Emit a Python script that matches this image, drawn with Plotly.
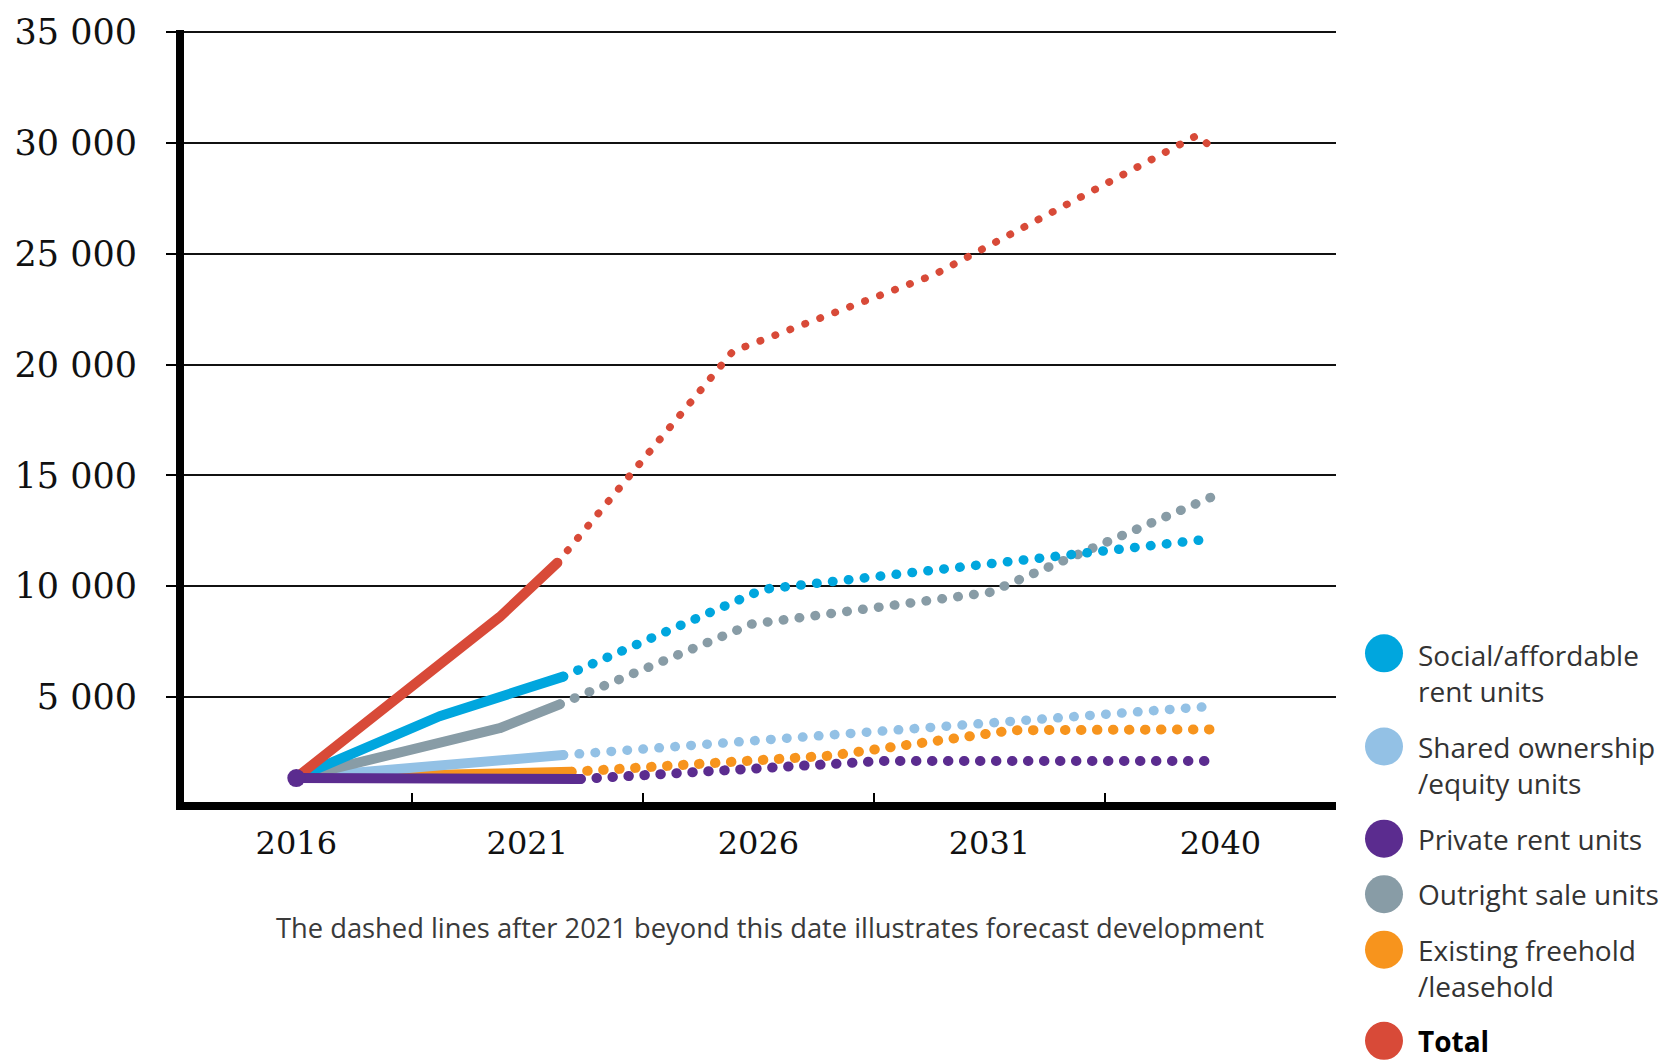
import plotly.graph_objects as go

# Timeline: 0 = 2016, 1 = 2021, 2 = 2026, 3 = 2031, 4 = 2040 (evenly spaced periods)
period_labels = ["2016", "2021", "2026", "2031", "2040"]
period_pos = [0, 1, 2, 3, 4]
period_bounds = [0.5, 1.5, 2.5, 3.5]

# Delivered units to date (solid) and forecast development (dotted)
social_x = [0, 0.62, 1.155]
social_y = [1350, 4120, 5910]
social_fx = [1.155, 2.02, 3.96]
social_fy = [5910, 9850, 12130]

shared_x = [0, 1.155]
shared_y = [1350, 2370]
shared_fx = [1.155, 3.96]
shared_fy = [2370, 4570]

private_x = [0, 1.23]
private_y = [1330, 1290]
private_fx = [1.23, 2.53, 3.99]
private_fy = [1290, 2100, 2100]

outright_x = [0, 0.88, 1.14]
outright_y = [1350, 3580, 4660]
outright_fx = [1.14, 1.97, 3.0, 3.96]
outright_fy = [4660, 8280, 9710, 14010]

existing_x = [0, 1.19]
existing_y = [1350, 1610]
existing_fx = [1.19, 2.31, 3.10, 3.99]
existing_fy = [1610, 2340, 3490, 3530]

total_x = [0, 0.88, 1.13]
total_y = [1350, 8600, 11050]
total_fx = [1.13, 1.89, 2.76, 3.90, 3.95]
total_fy = [11050, 20600, 24050, 30350, 29900]

y_ticks = [5000, 10000, 15000, 20000, 25000, 30000, 35000]

BLUE = "#00a6de"
LIGHT = "#93c1e5"
PURPLE = "#5b2c8f"
GRAY = "#889ca6"
ORANGE = "#f7941d"
RED = "#d84a38"

series = [
    # name, colour, solid x/y, forecast x/y, dot width
    ("Existing freehold<br>/leasehold", ORANGE, existing_x, existing_y, existing_fx, existing_fy, 10),
    ("Shared ownership<br>/equity units", LIGHT, shared_x, shared_y, shared_fx, shared_fy, 9.5),
    ("Outright sale units", GRAY, outright_x, outright_y, outright_fx, outright_fy, 9.5),
    ("Social/affordable<br>rent units", BLUE, social_x, social_y, social_fx, social_fy, 9.5),
    ("Total", RED, total_x, total_y, total_fx, total_fy, 7.5),
    ("Private rent units", PURPLE, private_x, private_y, private_fx, private_fy, 10),
]

W, H = 1667, 1061
L, R, T, B = 184, 331, 23, 259
PW, PH = W - L - R, H - T - B


def paper_x(px):
    return (px - L) / PW


def paper_y(py):
    return (H - B - py) / PH


fig = go.Figure()

for name, color, sx, sy, fx, fy, dw in series:
    fig.add_trace(go.Scatter(
        x=fx, y=fy, mode="lines", showlegend=False, hoverinfo="skip",
        line=dict(color=color, width=dw, dash="0.5px,15.5px"),
    ))

for name, color, sx, sy, fx, fy, dw in series:
    fig.add_trace(go.Scatter(
        x=sx, y=sy, mode="lines", showlegend=False, hoverinfo="skip",
        line=dict(color=color, width=10),
    ))

# common starting point in 2016
fig.add_trace(go.Scatter(
    x=private_x[:1], y=private_y[:1], mode="markers", showlegend=False,
    hoverinfo="skip", marker=dict(color=PURPLE, size=18),
))

# year labels on an overlaid axis sharing the same range
fig.add_trace(go.Scatter(x=period_pos, y=[None] * 5, xaxis="x2", showlegend=False,
                         hoverinfo="skip", mode="lines"))

x_range = [-0.486, 4.5]

fig.update_layout(
    width=W, height=H,
    margin=dict(l=L, r=R, t=T, b=B, pad=0),
    paper_bgcolor="white", plot_bgcolor="white",
    separators=". ",
    showlegend=False,
    xaxis=dict(
        range=x_range, showgrid=False, zeroline=False,
        showline=True, linecolor="black", linewidth=8,
        tickmode="array", tickvals=period_bounds, ticks="inside",
        ticklen=9, tickwidth=2, tickcolor="black", showticklabels=False,
    ),
    xaxis2=dict(
        range=x_range, overlaying="x", anchor="y", side="bottom",
        showgrid=False, zeroline=False, showline=False,
        tickmode="array", tickvals=period_pos, ticktext=period_labels,
        ticks="", ticklabelstandoff=19,
        tickfont=dict(family="DejaVu Serif", size=32, color="#111111"),
    ),
    yaxis=dict(
        range=[250, 35100], zeroline=False,
        showline=True, linecolor="black", linewidth=8,
        showgrid=True, gridcolor="#111111", gridwidth=2,
        tickmode="array", tickvals=y_ticks, tickformat=",d",
        ticks="outside", ticklen=10, tickwidth=2, tickcolor="black",
        ticklabelstandoff=22,
        tickfont=dict(family="DejaVu Serif", size=35, color="#111111"),
    ),
    font=dict(family="Open Sans"),
)

# legend drawn to the right of the plot
legend_rows = [
    ("Social/affordable<br>rent units", BLUE, 652, 671.5, False),
    ("Shared ownership<br>/equity units", LIGHT, 746, 764.5, False),
    ("Private rent units", PURPLE, 839, 839, False),
    ("Outright sale units", GRAY, 895, 895, False),
    ("Existing freehold<br>/leasehold", ORANGE, 951, 969.5, False),
    ("Total", RED, 1043, 1043, True),
]
shapes = []
annotations = []
for label, color, cy, ty, bold in legend_rows:
    shapes.append(dict(
        type="circle", xref="paper", yref="paper",
        xsizemode="pixel", ysizemode="pixel",
        xanchor=paper_x(1384), yanchor=paper_y(cy),
        x0=-19, x1=19, y0=-19, y1=19,
        fillcolor=color, line=dict(width=0), layer="above",
    ))
    annotations.append(dict(
        text=f"<b>{label}</b>" if bold else label,
        xref="paper", yref="paper", x=paper_x(1416), y=paper_y(ty),
        xanchor="left", yanchor="middle", showarrow=False, align="left",
        font=dict(family="Open Sans", size=28, color="black" if bold else "#333333"),
    ))

annotations.append(dict(
    text="The dashed lines after 2021 beyond this date illustrates forecast development",
    xref="paper", yref="paper", x=paper_x(770), y=paper_y(929),
    xanchor="center", yanchor="middle", showarrow=False,
    font=dict(family="Open Sans", size=27.3, color="#3a3a3a"),
))

fig.update_layout(shapes=shapes, annotations=annotations)

round_caps = (
    "document.querySelectorAll('.scatterlayer path.js-line').forEach(function(p){"
    "p.style.strokeLinecap='round';p.style.strokeLinejoin='round';});"
)

fig.write_html("out.html", post_script=round_caps)
